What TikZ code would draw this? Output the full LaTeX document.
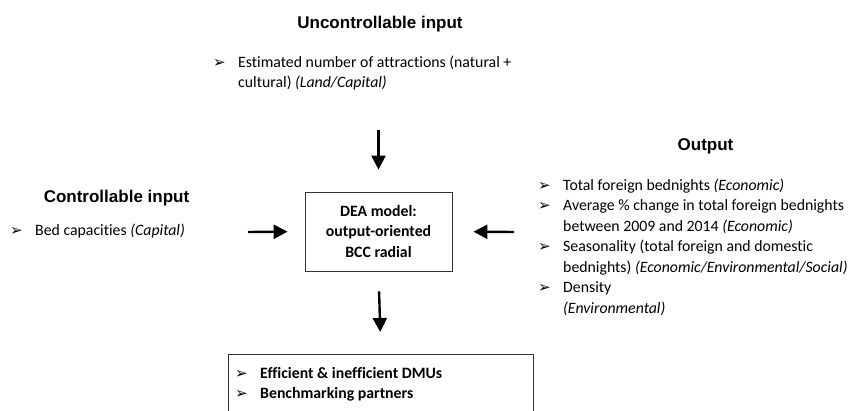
\documentclass[tikz,border=0pt]{standalone}
\usepackage{fontspec}
\setmainfont{Carlito}[Ligatures=NoCommon]
\newfontfamily\headfont{Liberation Sans}
\newfontfamily\symfont{DejaVu Sans}
\usetikzlibrary{arrows.meta}
\newcommand{\bul}{\makebox[25pt][l]{\symfont\fontsize{15}{15}\selectfont ➢}}
\newcommand{\cont}{\hspace*{25pt}}
\newcommand{\lines}[1]{\begin{tabular}[t]{@{}l@{}}#1\end{tabular}}
\tikzset{
  heading/.style={font=\headfont\bfseries\fontsize{17}{20}\selectfont, anchor=base, inner sep=0pt},
  item/.style={font=\fontsize{15.8}{20.5}\selectfont, anchor=base west, inner sep=0pt},
  flow/.style={-{Triangle[length=14pt,width=14pt]}, line width=2.4pt},
  modelbox/.style={draw=black!80, line width=0.8pt, minimum width=147pt, minimum height=79pt,
    inner sep=0pt, align=center, font=\bfseries\fontsize{15.8}{20.5}\selectfont}
}

\begin{document}
\begin{tikzpicture}[x=1pt, y=-1pt]
  \useasboundingbox (0,0) rectangle (852,410);
  \fill[white] (0,0) rectangle (852,410);
  \clip (0,0) rectangle (852,410);
  % headings
  \node[heading] (uhead) at (380,28) {Uncontrollable input};
  \node[heading] (chead) at (116.5,202) {Controllable input};
  \node[heading] (ohead) at (705.5,150) {Output};
  % input and output lists
  \node[item] (uitem) at (213,67) {\lines{\bul Estimated number of attractions (natural +\\
    \cont cultural) \textit{(Land/Capital)}}};
  \node[item] (citem) at (10,235) {\bul Bed capacities \textit{(Capital)}};
  \node[item] (oitem) at (538,190) {\lines{\bul Total foreign bednights \textit{(Economic)}\\
    \bul Average \% change in total foreign bednights\\
    \cont between 2009 and 2014 \textit{(Economic)}\\
    \bul Seasonality (total foreign and domestic\\
    \cont bednights) \textit{(Economic/Environmental/Social)}\\
    \bul Density\\
    \cont \textit{(Environmental)}}};
  % model
  \node[modelbox] (dea) at (378.5,231.5) {DEA model:\\ output-oriented\\ BCC radial};
  % results, cut by the page edge
  \node[draw=black!80, line width=0.8pt, anchor=north west, minimum width=305pt,
    minimum height=80pt, inner sep=0pt] (res) at (228,354) {};
  \node[item] (ritem) at (235,378) {\lines{\bul \textbf{Efficient \& inefficient DMUs}\\
    \bul \textbf{Benchmarking partners}}};
  % arrows
  \coordinate (uin) at (378.5,130);
  \coordinate (cin) at (248,232);
  \coordinate (oin) at (514,232);
  \draw[flow, shorten >=22pt] (uin) -- (dea.north);
  \draw[flow, shorten >=17pt] (cin) -- (dea.west);
  \draw[flow, shorten >=21pt] (oin) -- (dea.east);
  \draw[flow, shorten <=20pt, shorten >=22pt] (dea.south) -- (res.north);
\end{tikzpicture}
\end{document}
